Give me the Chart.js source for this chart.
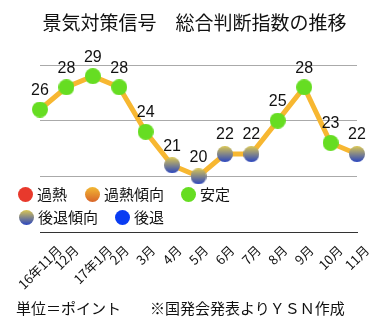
<!DOCTYPE html>
<html>
<head>
<meta charset="utf-8">
<script src="https://cdn.jsdelivr.net/npm/chart.js@4"></script>
<style>
  body { margin: 0; background: #fff; font-family: 'Noto Sans CJK JP', sans-serif; }
  #wrap { position: relative; width: 389px; height: 325px; }
  #title { position: absolute; left: 0; width: 389px; top: 9px; text-align: center; font-size: 19px; line-height: 26px; color: #111; }
  .leg { position: absolute; font-size: 15px; line-height: 20px; color: #111; white-space: nowrap; }
  .dot { position: absolute; width: 15px; height: 15px; border-radius: 50%; }
  #foot1, #foot2 { position: absolute; top: 297px; font-size: 15px; line-height: 22px; color: #111; white-space: nowrap; }
  canvas { position: absolute; left: 0; top: 0; }
</style>
</head>
<body>
<div id="wrap">
  <canvas id="chart" width="389" height="325"></canvas>
  <div id="title">景気対策信号　総合判断指数の推移</div>
  <div id="legend"></div>
  <div id="foot1" style="left:16px">単位＝ポイント</div>
  <div id="foot2" style="left:150px">※国発会発表よりＹＳＮ作成</div>
</div>
<script>
// Data
const months = ['16年11月', '12月', '17年1月', '2月', '3月', '4月', '5月', '6月', '7月', '8月', '9月', '10月', '11月'];
const indexValues = [26, 28, 29, 28, 24, 21, 20, 22, 22, 25, 28, 23, 22];
const signals = ['安定', '安定', '安定', '安定', '安定', '後退傾向', '後退傾向', '後退傾向', '後退傾向', '安定', '安定', '安定', '後退傾向'];
const signalLabels = ['過熱', '過熱傾向', '安定', '後退傾向', '後退'];

// colours per signal: [top, bottom]
const signalColors = {
  '過熱': ['#e8392c', '#e8392c'],
  '過熱傾向': ['#f2b834', '#d8652a'],
  '安定': ['#66dd22', '#66dd22'],
  '後退傾向': ['#d9c653', '#2a45c0'],
  '後退': ['#0a3cf2', '#0a3cf2']
};

function ball(sig, r) {
  const c = document.createElement('canvas');
  c.width = r * 2; c.height = r * 2;
  const ctx = c.getContext('2d');
  const g = ctx.createLinearGradient(0, 0, 0, r * 2);
  g.addColorStop(0, signalColors[sig][0]);
  g.addColorStop(1, signalColors[sig][1]);
  ctx.fillStyle = g;
  ctx.beginPath();
  ctx.arc(r, r, r, 0, Math.PI * 2);
  ctx.fill();
  return c;
}

// Legend (HTML)
const legendPos = [[18, 187], [85, 187], [181, 187], [19, 210], [115, 210]];
const legendEl = document.getElementById('legend');
signalLabels.forEach((s, i) => {
  const [x, y] = legendPos[i];
  const d = document.createElement('div');
  d.className = 'dot';
  d.style.left = x + 'px';
  d.style.top = y + 'px';
  d.style.background = 'linear-gradient(' + signalColors[s][0] + ',' + signalColors[s][1] + ')';
  legendEl.appendChild(d);
  const t = document.createElement('div');
  t.className = 'leg';
  t.style.left = (x + 19) + 'px';
  t.style.top = (y - 3) + 'px';
  t.textContent = s;
  legendEl.appendChild(t);
});

// value labels above points
const valueLabels = {
  id: 'valueLabels',
  afterDatasetsDraw(chart) {
    const ctx = chart.ctx;
    const meta = chart.getDatasetMeta(0);
    ctx.save();
    ctx.font = '16px "Liberation Sans", sans-serif';
    ctx.fillStyle = '#111';
    ctx.textAlign = 'center';
    ctx.textBaseline = 'middle';
    meta.data.forEach((pt, i) => {
      ctx.fillText(String(indexValues[i]), pt.x, pt.y - 19);
    });
    ctx.restore();
  }
};

// month labels, rotated 45deg and centred on their tick
const monthLabels = {
  id: 'monthLabels',
  afterDraw(chart) {
    const ctx = chart.ctx;
    const xs = chart.scales.x;
    const top = xs.top + 12;
    const s = Math.SQRT1_2;
    ctx.save();
    ctx.font = '13px "Noto Sans CJK JP", sans-serif';
    ctx.fillStyle = '#111';
    ctx.textAlign = 'center';
    ctx.textBaseline = 'middle';
    months.forEach((m, i) => {
      const w = ctx.measureText(m).width;
      const h = 11;
      const cx = xs.getPixelForTick(i);
      const cy = top + (w + h) * s / 2;
      ctx.save();
      ctx.translate(cx, cy);
      ctx.rotate(-Math.PI / 4);
      ctx.fillText(m, 0, 0);
      ctx.restore();
    });
    ctx.restore();
  }
};

new Chart(document.getElementById('chart').getContext('2d'), {
  type: 'line',
  data: {
    labels: months,
    datasets: [{
      data: indexValues,
      borderColor: '#f7b731',
      borderWidth: 5,
      tension: 0,
      pointStyle: signals.map(s => ball(s, 8)),
      pointRadius: 8,
      pointHoverRadius: 8,
      clip: false
    }]
  },
  options: {
    responsive: false,
    animation: false,
    events: [],
    layout: { padding: { left: 40, right: 32, top: 65, bottom: 0 } },
    plugins: {
      legend: { display: false },
      tooltip: { enabled: false }
    },
    scales: {
      x: {
        offset: false,
        grid: { display: false },
        border: { display: true, color: '#333', width: 1 },
        ticks: { display: false, autoSkip: false },
        afterFit(scale) { scale.height = 93; }
      },
      y: {
        min: 15,
        max: 30,
        ticks: { display: false, stepSize: 5 },
        grid: { color: '#aaa', lineWidth: 1, drawTicks: false },
        border: { display: false }
      }
    }
  },
  plugins: [valueLabels, monthLabels]
});
</script>
</body>
</html>
